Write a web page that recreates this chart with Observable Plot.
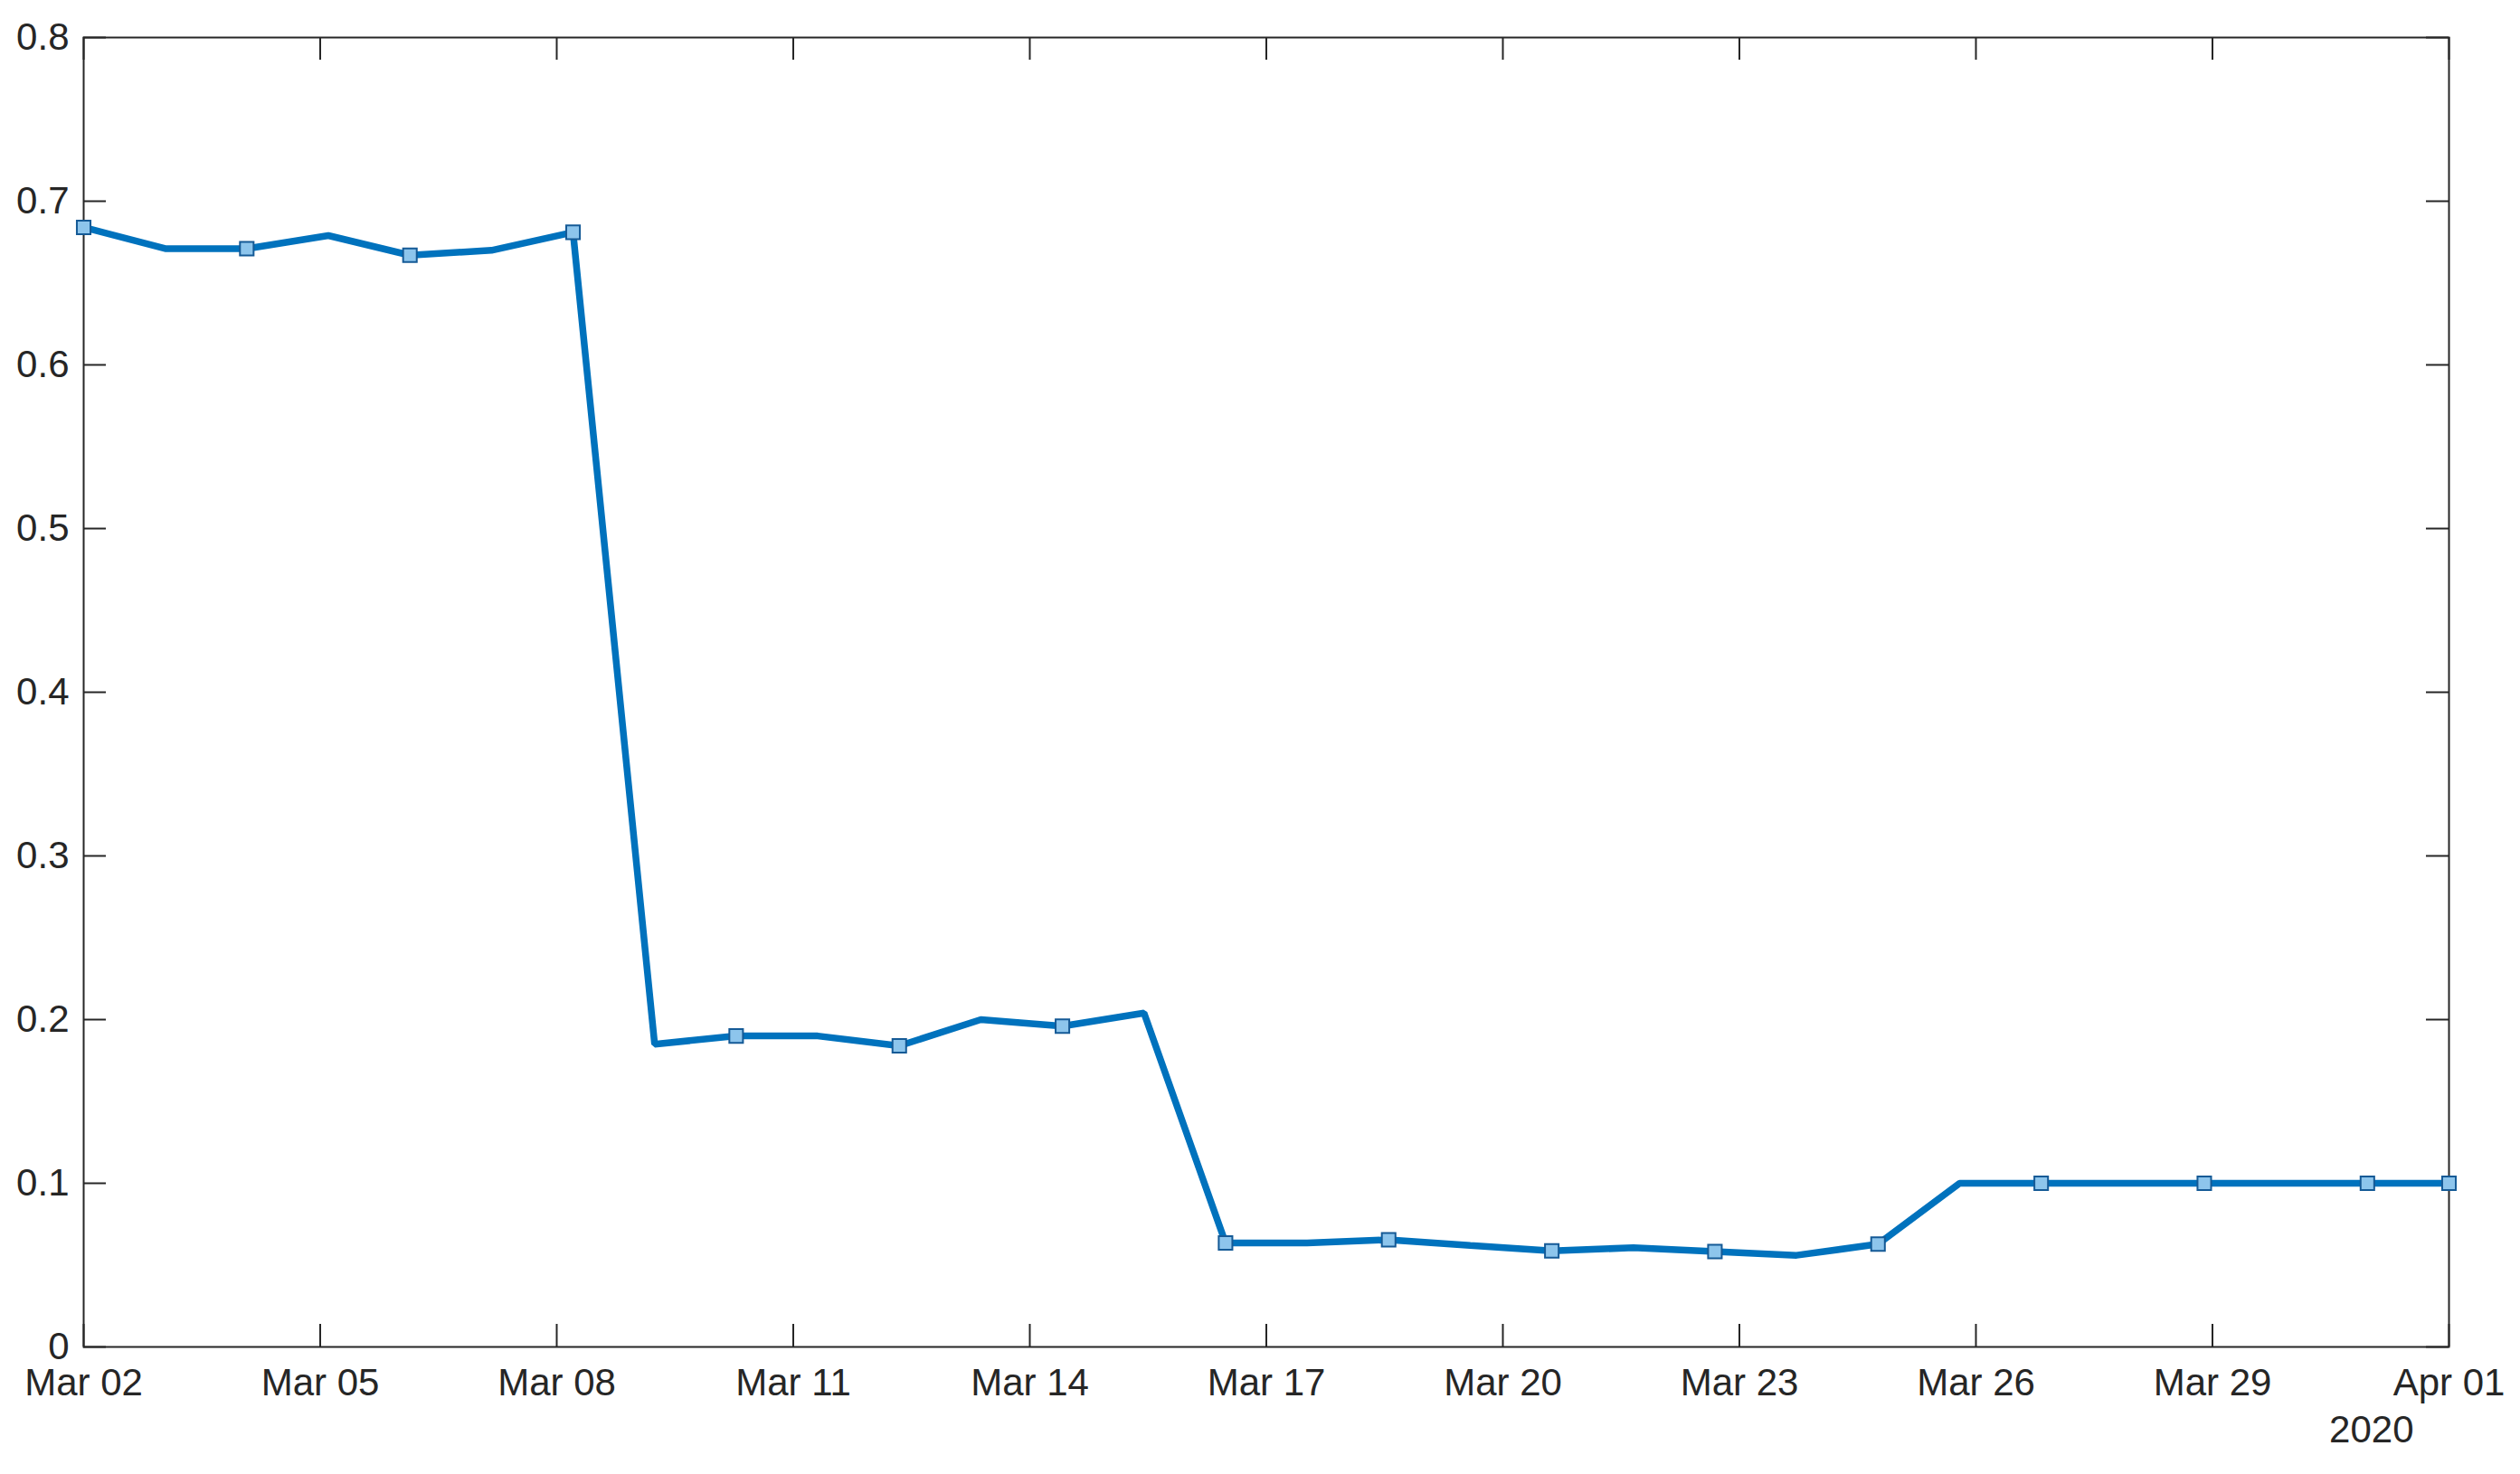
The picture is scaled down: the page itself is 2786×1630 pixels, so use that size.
<!DOCTYPE html>
<html>
<head>
<meta charset="utf-8">
<script src="https://cdn.jsdelivr.net/npm/d3@7"></script>
<script src="https://cdn.jsdelivr.net/npm/@observablehq/plot@0.6"></script>
<style>
  html, body { margin: 0; padding: 0; background: #fff; }
  svg { display: block; }
</style>
</head>
<body>
<div id="chart"></div>
<script>
// Sample times (30 evenly spaced samples from Mar 02 to Apr 01, 2020)
const times = [
  "2020-03-02T00:00Z","2020-03-03T00:50Z","2020-03-04T01:39Z","2020-03-05T02:29Z","2020-03-06T03:19Z",
  "2020-03-07T04:08Z","2020-03-08T04:58Z","2020-03-09T05:48Z","2020-03-10T06:37Z","2020-03-11T07:27Z",
  "2020-03-12T08:17Z","2020-03-13T09:06Z","2020-03-14T09:56Z","2020-03-15T10:46Z","2020-03-16T11:35Z",
  "2020-03-17T12:25Z","2020-03-18T13:14Z","2020-03-19T14:04Z","2020-03-20T14:54Z","2020-03-21T15:43Z",
  "2020-03-22T16:33Z","2020-03-23T17:23Z","2020-03-24T18:12Z","2020-03-25T19:02Z","2020-03-26T19:52Z",
  "2020-03-27T20:41Z","2020-03-28T21:31Z","2020-03-29T22:21Z","2020-03-30T23:10Z","2020-04-01T00:00Z"
];
const values = [
  0.684, 0.671, 0.671, 0.679, 0.667, 0.670, 0.681,
  0.185, 0.190, 0.190, 0.184, 0.200, 0.196, 0.204,
  0.0635, 0.0635, 0.0655, 0.062, 0.0587, 0.0606, 0.0583, 0.0560, 0.0628,
  0.100, 0.100, 0.100, 0.100, 0.100, 0.100, 0.100
];
// Marker shown on these sample indices
const markerIdx = [0, 2, 4, 6, 8, 10, 12, 14, 16, 18, 20, 22, 24, 26, 28, 29];
const xTickLabels = ["2020-03-02","2020-03-05","2020-03-08","2020-03-11","2020-03-14","2020-03-17",
                     "2020-03-20","2020-03-23","2020-03-26","2020-03-29","2020-04-01"];
const yTicks = [0, 0.1, 0.2, 0.3, 0.4, 0.5, 0.6, 0.7, 0.8];
const yearLabel = ["2020"];
const xDomain = ["2020-03-02", "2020-04-01"];
const yDomain = [0, 0.8];

const data = times.map((t, i) => ({t: new Date(t), v: values[i]}));
const markers = markerIdx.map(i => data[i]);
const xTicks = xTickLabels.map(s => new Date(s + "T00:00Z"));

const W = 2786, H = 1630;
const mL = 92, mR = 79, mT = 41, mB = 141;
const pw = W - mL - mR, ph = H - mT - mB;
const tickLen = 25;
const axisColor = "#262626";
const font = "'Liberation Sans', Arial, Helvetica, sans-serif";
const fs = 42;

const fmt = d3.utcFormat("%b %d");

const chart = Plot.plot({
  width: W, height: H,
  marginLeft: mL, marginRight: mR, marginTop: mT, marginBottom: mB,
  style: {fontFamily: font, fontSize: fs + "px", color: axisColor, background: "#fff"},
  x: {type: "utc", domain: xDomain.map(s => new Date(s + "T00:00Z"))},
  y: {domain: yDomain},
  marks: [
    // inward tick marks, all four sides
    Plot.tickX(xTicks, {x: d => d, insetTop: ph - tickLen, stroke: axisColor, strokeWidth: 2}),
    Plot.tickX(xTicks, {x: d => d, insetBottom: ph - tickLen, stroke: axisColor, strokeWidth: 2}),
    Plot.tickY(yTicks, {y: d => d, insetRight: pw - tickLen, stroke: axisColor, strokeWidth: 2}),
    Plot.tickY(yTicks, {y: d => d, insetLeft: pw - tickLen, stroke: axisColor, strokeWidth: 2}),
    Plot.frame({stroke: axisColor, strokeWidth: 2}),
    // axis labels
    Plot.axisX({ticks: xTicks, tickSize: 0, tickPadding: 24, tickFormat: fmt, fontSize: fs, fill: axisColor, label: null}),
    Plot.axisY({ticks: yTicks, tickSize: 0, tickPadding: 16, tickFormat: d => String(d), fontSize: fs, fill: axisColor, label: null}),
    Plot.text(yearLabel, {text: d => d, frameAnchor: "bottom-right", textAnchor: "end", lineAnchor: "top",
      dx: -39, dy: 76, fontSize: fs, fill: axisColor}),
    // data
    Plot.line(data, {x: "t", y: "v", stroke: "#0072BD", strokeWidth: 7.5, strokeLinejoin: "miter", strokeLinecap: "butt"}),
    Plot.dot(markers, {x: "t", y: "v", symbol: "square", r: 8.5, fill: "#8DC5EC", stroke: "#155A96", strokeWidth: 2})
  ]
});
document.getElementById("chart").appendChild(chart);
</script>
</body>
</html>
